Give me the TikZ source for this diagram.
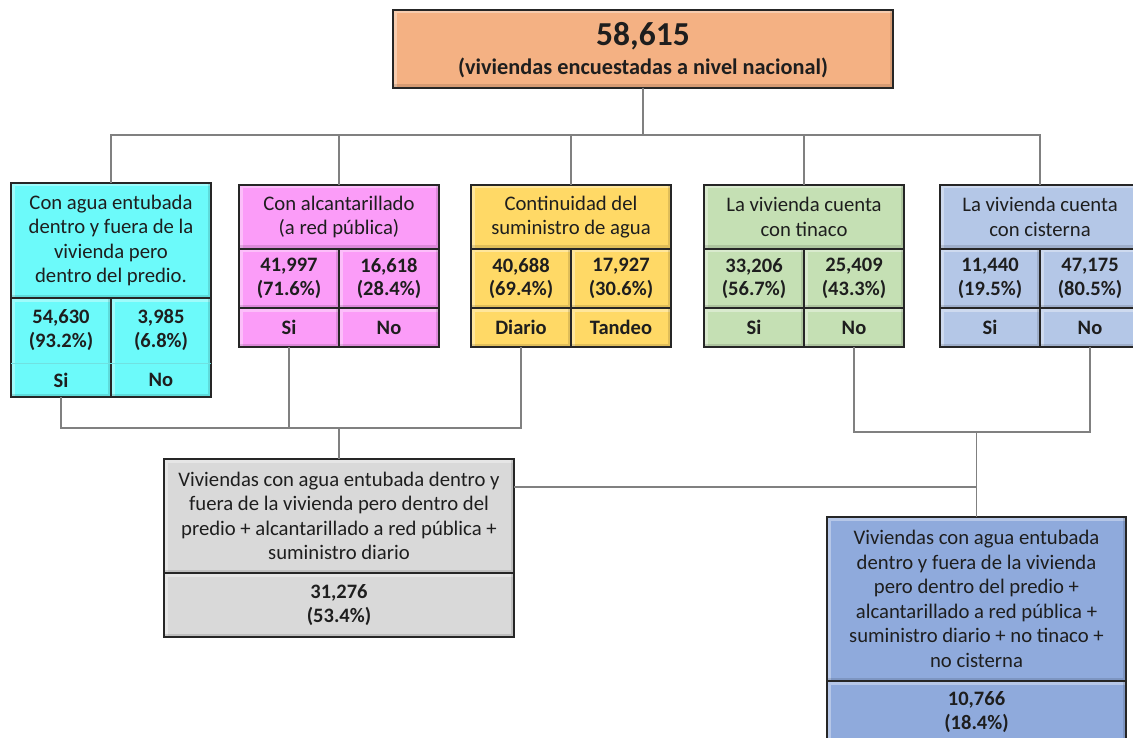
\documentclass[tikz,border=0pt]{standalone}
\usepackage{fontspec}
\setmainfont{Carlito}
\definecolor{topc}{HTML}{F4B183}
\definecolor{cyanc}{HTML}{6CFAFA}
\definecolor{pinkc}{HTML}{FB9CF8}
\definecolor{yellowc}{HTML}{FFD966}
\definecolor{greenc}{HTML}{C5E0B4}
\definecolor{bluec}{HTML}{B4C7E7}
\definecolor{grayc}{HTML}{D9D9D9}
\definecolor{dbluec}{HTML}{8FAADC}
\definecolor{linec}{HTML}{808080}
\definecolor{bordc}{HTML}{262626}
\definecolor{txt}{HTML}{1E1E1E}
\newcommand{\mycell}[8][]{%
  \node[cellbox,#1,fill=#7,minimum width={(#5)-(#3)},minimum height={(#6)-(#4)}]
    (#2) at ({((#3)+(#5))/2},{((#4)+(#6))/2}) {#8};}
\begin{document}
\begin{tikzpicture}[x=1pt,y=-1pt,
  bevel/.style={path picture={
    \draw[white,opacity=0.35,line width=3pt]
      ([xshift=2pt]path picture bounding box.south west) |- ([yshift=-2pt]path picture bounding box.north east);
    \draw[black,opacity=0.12,line width=3pt]
      ([xshift=-2pt]path picture bounding box.north east) |- ([yshift=2pt]path picture bounding box.south west);}},
  cellbox/.style={draw=bordc,line width=1.6pt,inner sep=0pt,outer sep=0pt,bevel,
    align=center,text=txt,font=\fontsize{20.7}{24.5}\selectfont},
  num/.style={font=\bfseries\fontsize{20.5}{23.5}\selectfont},
  lbl/.style={font=\bfseries\fontsize{20.5}{24}\selectfont},
  txtnode/.style={align=center,text=txt,inner sep=0pt},
  link/.style={draw=linec,line width=1.6pt}]
\useasboundingbox (0,0) rectangle (1133,738);

% top
\mycell{top}{393}{10}{893}{88}{topc}{}
\node[txtnode,font=\bfseries\fontsize{33.5}{36}\selectfont] (topnum) at (643,36) {58,615};
\node[txtnode,font=\bfseries\fontsize{22.3}{24}\selectfont] (topsub) at (643,68) {(viviendas encuestadas a nivel nacional)};

% cyan
\mycell{ah}{11}{183}{211}{298}{cyanc}{Con agua entubada\\dentro y fuera de la\\vivienda pero\\dentro del predio.}
\mycell{as}{11}{298}{111}{397}{cyanc}{}
\mycell{an}{111}{298}{211}{397}{cyanc}{}
\draw[cyanc!80!gray,line width=0.8pt] (as.west |- 0,363) -- (an.east |- 0,363);
\node[txtnode,font=\bfseries\fontsize{20.5}{23.5}\selectfont] (asn) at (61,330) {54,630\\(93.2\%)};
\node[txtnode,font=\bfseries\fontsize{20.5}{24}\selectfont] (asl) at (61,380) {Si};
\node[txtnode,font=\bfseries\fontsize{20.5}{23.5}\selectfont] (ann) at (161,330) {3,985\\(6.8\%)};
\node[txtnode,font=\bfseries\fontsize{20.5}{24}\selectfont] (anl) at (161,380) {No};

% pink
\mycell{bh}{239}{185}{439}{249}{pinkc}{Con alcantarillado\\(a red pública)}
\mycell[num]{bsn}{239}{249}{339}{308}{pinkc}{41,997\\(71.6\%)}
\mycell[num]{bnn}{339}{249}{439}{308}{pinkc}{16,618\\(28.4\%)}
\mycell[lbl]{bsl}{239}{308}{339}{347}{pinkc}{Si}
\mycell[lbl]{bnl}{339}{308}{439}{347}{pinkc}{No}

% yellow
\mycell{yh}{471}{185}{671}{249}{yellowc}{Continuidad del\\suministro de agua}
\mycell[num]{ysn}{471}{249}{571}{308}{yellowc}{40,688\\(69.4\%)}
\mycell[num]{ynn}{571}{249}{671}{308}{yellowc}{17,927\\(30.6\%)}
\mycell[lbl]{ysl}{471}{308}{571}{347}{yellowc}{Diario}
\mycell[lbl]{ynl}{571}{308}{671}{347}{yellowc}{Tandeo}

% green
\mycell{gh}{704}{185}{904}{249}{greenc}{La vivienda cuenta\\con tinaco}
\mycell[num]{gsn}{704}{249}{804}{308}{greenc}{33,206\\(56.7\%)}
\mycell[num]{gnn}{804}{249}{904}{308}{greenc}{25,409\\(43.3\%)}
\mycell[lbl]{gsl}{704}{308}{804}{347}{greenc}{Si}
\mycell[lbl]{gnl}{804}{308}{904}{347}{greenc}{No}

% blue
\mycell{lh}{940}{185}{1140}{249}{bluec}{La vivienda cuenta\\con cisterna}
\mycell[num]{lsn}{940}{249}{1040}{308}{bluec}{11,440\\(19.5\%)}
\mycell[num]{lnn}{1040}{249}{1140}{308}{bluec}{47,175\\(80.5\%)}
\mycell[lbl]{lsl}{940}{308}{1040}{347}{bluec}{Si}
\mycell[lbl]{lnl}{1040}{308}{1140}{347}{bluec}{No}

% gray result
\mycell{xh}{164}{459}{514}{573}{grayc}{Viviendas con agua entubada dentro y\\fuera de la vivienda pero dentro del\\predio + alcantarillado a red pública +\\suministro diario}
\mycell[num]{xn}{164}{573}{514}{637}{grayc}{31,276\\(53.4\%)}

% dark blue result
\mycell{zh}{827}{517}{1126}{681}{dbluec}{Viviendas con agua entubada\\dentro y fuera de la vivienda\\pero dentro del predio +\\alcantarillado a red pública +\\suministro diario + no tinaco +\\no cisterna}
\mycell[num]{zn}{827}{681}{1126}{743}{dbluec}{10,766\\(18.4\%)}

% connectors
\coordinate (bus) at (643,135);
\draw[link] (top.south) -- (bus);
\draw[link] (ah.north) -- (ah.north |- bus) -- (lh.north |- bus) -- (lh.north);
\draw[link] (bh.north) -- (bh.north |- bus);
\draw[link] (yh.north) -- (yh.north |- bus);
\draw[link] (gh.north) -- (gh.north |- bus);

\coordinate (jl) at (339,428);
\draw[link] (as.south) -- (as.south |- jl) -- (ysl.south |- jl) -- (ysl.south);
\draw[link] (bsl.south) -- (bsl.south |- jl);
\draw[link] (jl) -- (xh.north);

\coordinate (jr) at (976.5,432);
\draw[link] (gnl.south) -- (gnl.south |- jr) -- (lnl.south |- jr) -- (lnl.south);
\draw[link] (jr) -- (zh.north);
\coordinate (jm) at (976.5,487);
\draw[link] (xh.east |- jm) -- (jm);
\end{tikzpicture}
\end{document}
